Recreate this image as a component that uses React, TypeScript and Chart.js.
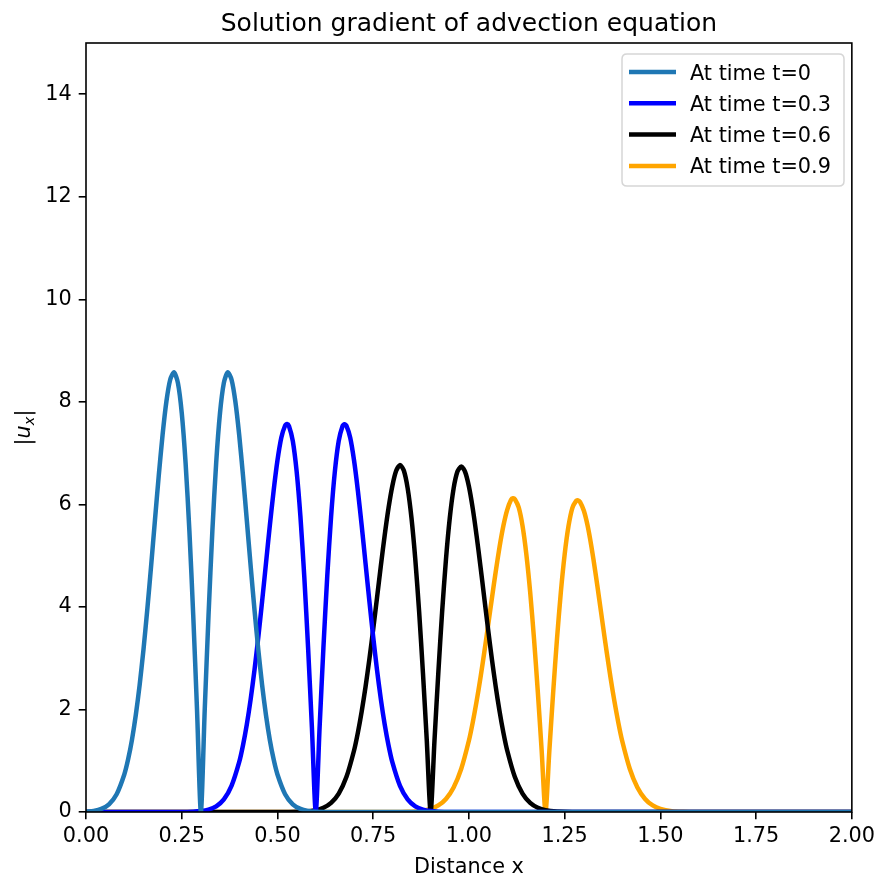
import React, { useEffect, useRef } from 'react';
import { Chart, registerables } from 'chart.js';

Chart.register(...registerables);

const TITLE = 'Solution gradient of advection equation';
const X_LABEL = 'Distance x';
const SERIES_LABELS = ['At time t=0', 'At time t=0.3', 'At time t=0.6', 'At time t=0.9'];
const SERIES_COLORS = ['#1f77b4', '#0000ff', '#000000', '#ffa500'];
const X_TICKS = [0, 0.25, 0.5, 0.75, 1.0, 1.25, 1.5, 1.75, 2.0];
const Y_TICKS = [0, 2, 4, 6, 8, 10, 12, 14];

const T0_X = [0, 0.02, 0.04, 0.06, 0.08, 0.10, 0.11, 0.12, 0.13, 0.14, 0.15, 0.16, 0.17, 0.18, 0.19, 0.20, 0.21, 0.22, 0.23, 0.24, 0.25, 0.26, 0.27, 0.28, 0.29, 0.30, 0.31, 0.32, 0.33, 0.34, 0.35, 0.36, 0.37, 0.38, 0.39, 0.40, 0.41, 0.42, 0.43, 0.44, 0.45, 0.46, 0.47, 0.48, 0.49, 0.50, 0.52, 0.54, 0.56, 0.58, 0.60, 0.65, 2.0];
const T0_Y = [0.007, 0.022, 0.060, 0.151, 0.348, 0.733, 1.028, 1.409, 1.889, 2.473, 3.162, 3.944, 4.797, 5.686, 6.562, 7.358, 8.009, 8.437, 8.577, 8.372, 7.788, 6.817, 5.484, 3.843, 1.980, 0, 1.980, 3.843, 5.484, 6.817, 7.788, 8.372, 8.577, 8.437, 8.009, 7.358, 6.562, 5.686, 4.797, 3.944, 3.162, 2.473, 1.889, 1.409, 1.028, 0.733, 0.348, 0.151, 0.060, 0.022, 0.007, 0, 0];

const T3_X = [0, 0.25, 0.28, 0.30, 0.32, 0.34, 0.36, 0.38, 0.40, 0.41, 0.42, 0.43, 0.44, 0.45, 0.46, 0.47, 0.48, 0.49, 0.50, 0.51, 0.52, 0.525, 0.53, 0.54, 0.55, 0.56, 0.57, 0.58, 0.59, 0.60, 0.61, 0.62, 0.63, 0.64, 0.65, 0.66, 0.67, 0.675, 0.68, 0.69, 0.70, 0.71, 0.72, 0.73, 0.74, 0.75, 0.76, 0.77, 0.78, 0.79, 0.80, 0.82, 0.84, 0.86, 0.88, 0.90, 0.92, 0.95, 2.0];
const T3_Y = [0, 0, 0.006, 0.018, 0.046, 0.110, 0.246, 0.509, 0.971, 1.302, 1.710, 2.199, 2.770, 3.415, 4.115, 4.850, 5.583, 6.268, 6.859, 7.301, 7.539, 7.569, 7.531, 7.240, 6.649, 5.759, 4.594, 3.201, 1.643, 0, 1.643, 3.201, 4.594, 5.759, 6.649, 7.240, 7.531, 7.565, 7.535, 7.301, 6.859, 6.268, 5.583, 4.850, 4.115, 3.415, 2.770, 2.199, 1.710, 1.302, 0.971, 0.509, 0.246, 0.110, 0.046, 0.018, 0.006, 0, 0];

const T6_X = [0, 0.53, 0.57, 0.60, 0.62, 0.64, 0.66, 0.68, 0.70, 0.71, 0.72, 0.73, 0.74, 0.75, 0.76, 0.77, 0.78, 0.79, 0.80, 0.81, 0.82, 0.83, 0.84, 0.85, 0.86, 0.87, 0.88, 0.89, 0.90, 0.91, 0.92, 0.93, 0.94, 0.95, 0.96, 0.97, 0.98, 0.99, 1.00, 1.01, 1.02, 1.03, 1.04, 1.05, 1.06, 1.07, 1.08, 1.09, 1.10, 1.12, 1.14, 1.16, 1.18, 1.20, 1.23, 1.27, 2.0];
const T6_Y = [0, 0, 0.010, 0.035, 0.082, 0.178, 0.360, 0.681, 1.200, 1.549, 1.965, 2.442, 2.980, 3.566, 4.181, 4.802, 5.396, 5.927, 6.360, 6.655, 6.770, 6.660, 6.315, 5.733, 4.923, 3.902, 2.705, 1.385, 0, 1.385, 2.705, 3.902, 4.923, 5.733, 6.310, 6.640, 6.740, 6.635, 6.350, 5.920, 5.390, 4.800, 4.181, 3.566, 2.980, 2.442, 1.965, 1.549, 1.200, 0.681, 0.360, 0.178, 0.082, 0.035, 0.010, 0, 0];

const T9_X = [0, 0.80, 0.84, 0.87, 0.90, 0.92, 0.94, 0.96, 0.98, 1.00, 1.01, 1.02, 1.03, 1.04, 1.05, 1.06, 1.07, 1.08, 1.09, 1.10, 1.11, 1.115, 1.12, 1.13, 1.14, 1.15, 1.16, 1.17, 1.18, 1.19, 1.20, 1.21, 1.22, 1.23, 1.24, 1.25, 1.26, 1.27, 1.28, 1.285, 1.29, 1.30, 1.31, 1.32, 1.33, 1.34, 1.35, 1.36, 1.37, 1.38, 1.39, 1.40, 1.42, 1.44, 1.46, 1.48, 1.50, 1.53, 1.56, 1.60, 2.0];
const T9_Y = [0, 0, 0.004, 0.017, 0.060, 0.127, 0.255, 0.479, 0.845, 1.395, 1.749, 2.156, 2.611, 3.108, 3.632, 4.168, 4.690, 5.171, 5.582, 5.893, 6.090, 6.120, 6.100, 5.940, 5.580, 5.023, 4.284, 3.377, 2.333, 1.191, 0, 1.191, 2.333, 3.377, 4.284, 5.023, 5.574, 5.928, 6.070, 6.080, 6.050, 5.880, 5.582, 5.171, 4.690, 4.168, 3.632, 3.108, 2.611, 2.156, 1.749, 1.395, 0.845, 0.479, 0.255, 0.127, 0.060, 0.017, 0.004, 0, 0];

const SERIES_X = [T0_X, T3_X, T6_X, T9_X];
const SERIES_Y = [T0_Y, T3_Y, T6_Y, T9_Y];

const FONT = 'DejaVu Sans';
const FS = 20.8;
const LW = 4.5;

const decorPlugin = {
  id: 'decor',
  afterDraw(chart: any) {
    const ctx = chart.ctx as CanvasRenderingContext2D;
    const a = chart.chartArea;
    ctx.save();
    ctx.strokeStyle = '#000';
    ctx.lineWidth = 1.6;
    ctx.strokeRect(a.left, a.top, a.right - a.left, a.bottom - a.top);
    ctx.fillStyle = '#000';
    ctx.font = `25px "${FONT}"`;
    ctx.textAlign = 'center';
    ctx.textBaseline = 'alphabetic';
    ctx.fillText(TITLE, (a.left + a.right) / 2, 30.5);
    ctx.font = `${FS}px "${FONT}"`;
    ctx.fillText(X_LABEL, (a.left + a.right) / 2, 873);
    ctx.save();
    ctx.translate(30, (a.top + a.bottom) / 2);
    ctx.rotate(-Math.PI / 2);
    ctx.textAlign = 'left';
    const parts = [
      { t: '|', f: `${FS}px "${FONT}"`, dy: 0 },
      { t: 'u', f: `italic ${FS}px "${FONT}"`, dy: 0 },
      { t: 'x', f: `italic 14.5px "${FONT}"`, dy: 4 },
      { t: '|', f: `${FS}px "${FONT}"`, dy: 0 },
    ];
    let total = 0;
    for (const p of parts) { ctx.font = p.f; total += ctx.measureText(p.t).width; }
    let px = -total / 2;
    for (const p of parts) {
      ctx.font = p.f;
      ctx.fillText(p.t, px, p.dy);
      px += ctx.measureText(p.t).width;
    }
    ctx.restore();
    const bx = 622, by = 54, bw = 222, bh = 132, r = 5;
    ctx.beginPath();
    ctx.moveTo(bx + r, by);
    ctx.lineTo(bx + bw - r, by);
    ctx.quadraticCurveTo(bx + bw, by, bx + bw, by + r);
    ctx.lineTo(bx + bw, by + bh - r);
    ctx.quadraticCurveTo(bx + bw, by + bh, bx + bw - r, by + bh);
    ctx.lineTo(bx + r, by + bh);
    ctx.quadraticCurveTo(bx, by + bh, bx, by + bh - r);
    ctx.lineTo(bx, by + r);
    ctx.quadraticCurveTo(bx, by, bx + r, by);
    ctx.closePath();
    ctx.fillStyle = 'rgba(255,255,255,0.8)';
    ctx.fill();
    ctx.strokeStyle = '#d6d6d6';
    ctx.lineWidth = 1.5;
    ctx.stroke();
    ctx.font = `${FS}px "${FONT}"`;
    ctx.textAlign = 'left';
    ctx.textBaseline = 'alphabetic';
    SERIES_LABELS.forEach((lab, i) => {
      const y = 72 + i * 31.3;
      ctx.strokeStyle = SERIES_COLORS[i];
      ctx.lineWidth = LW;
      ctx.lineCap = 'butt';
      ctx.beginPath();
      ctx.moveTo(629, y);
      ctx.lineTo(676, y);
      ctx.stroke();
      ctx.fillStyle = '#000';
      ctx.fillText(lab, 690, y + 7.5);
    });
    ctx.restore();
  },
};

export default function App() {
  const ref = useRef<HTMLCanvasElement | null>(null);
  useEffect(() => {
    document.body.style.margin = '0';
    const canvas = ref.current;
    if (!canvas) return;
    const chart = new Chart(canvas, {
      type: 'line',
      data: {
        datasets: SERIES_LABELS.map((label, i) => ({
          label,
          data: SERIES_X[i].map((x, j) => ({ x, y: SERIES_Y[i][j] })),
          borderColor: SERIES_COLORS[i],
          backgroundColor: SERIES_COLORS[i],
          borderWidth: LW,
          borderJoinStyle: 'round',
          borderCapStyle: 'butt',
          pointRadius: 0,
          tension: 0.25,
          fill: false,
          clip: 0,
        })),
      },
      options: {
        animation: false,
        responsive: false,
        devicePixelRatio: 1,
        layout: { padding: { top: 43, right: 25, left: 0, bottom: 0 } },
        plugins: { legend: { display: false }, title: { display: false }, tooltip: { enabled: false } },
        scales: {
          x: {
            type: 'linear',
            min: 0,
            max: 2,
            afterBuildTicks: (s: any) => { s.ticks = X_TICKS.map((v) => ({ value: v })); },
            afterFit: (s: any) => { s.height = 65; },
            ticks: {
              autoSkip: false,
              maxRotation: 0,
              padding: 5,
              color: '#000',
              font: { family: FONT, size: FS },
              callback: (v: any) => Number(v).toFixed(2),
            },
            grid: { drawOnChartArea: false, drawTicks: true, tickLength: 7.3, color: '#000', lineWidth: 1.6 },
            border: { display: false },
          },
          y: {
            type: 'linear',
            min: 0,
            max: 15,
            afterBuildTicks: (s: any) => { s.ticks = Y_TICKS.map((v) => ({ value: v })); },
            afterFit: (s: any) => { s.width = 86; },
            ticks: {
              autoSkip: false,
              padding: 7,
              color: '#000',
              font: { family: FONT, size: FS },
              callback: (v: any) => String(v),
            },
            grid: { drawOnChartArea: false, drawTicks: true, tickLength: 7.3, color: '#000', lineWidth: 1.6 },
            border: { display: false },
          },
        },
      },
      plugins: [decorPlugin],
    } as any);
    return () => chart.destroy();
  }, []);
  return (
    <div style={{ width: 880, height: 877 }}>
      <canvas ref={ref} width={880} height={877} style={{ display: 'block', width: 880, height: 877 }} />
    </div>
  );
}
